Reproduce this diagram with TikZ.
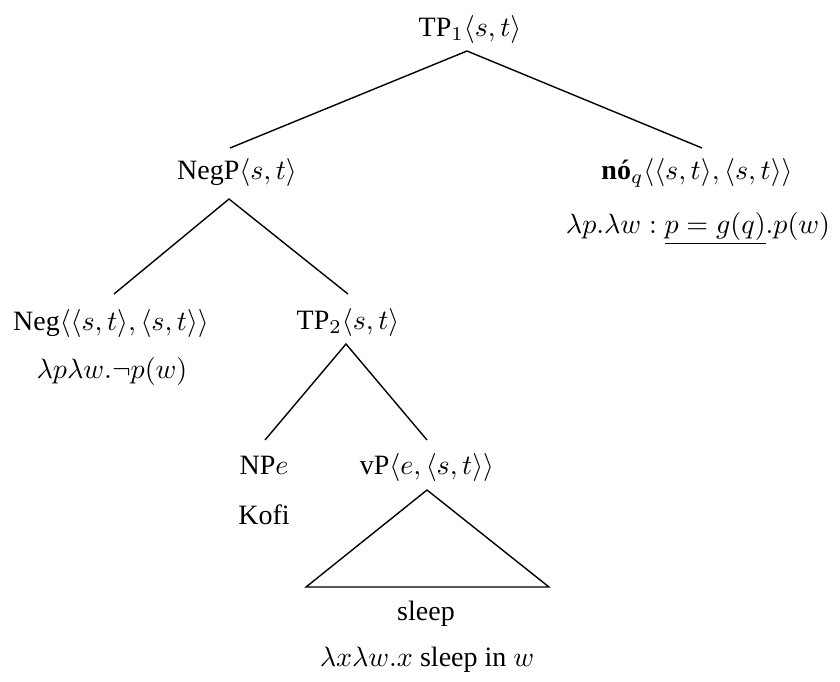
\documentclass[tikz,border=0pt]{standalone}
\usepackage[no-math]{fontspec}
\setmainfont{Liberation Serif}
\begin{document}
\begin{tikzpicture}[x=0.35714pt,y=-0.35714pt,
  lab/.style={anchor=base,inner sep=0pt},
  branch/.style={line width=0.5pt}]
\useasboundingbox (0,0) rectangle (840,681);

% labels of the tree
\node[lab] (tp1)   at (470,36)  {TP$_1\langle s,t\rangle$};
\node[lab] (negp)  at (237,179) {NegP$\langle s,t\rangle$};
\node[lab] (no)    at (697,179) {\textbf{nó}$_q\langle\langle s,t\rangle,\langle s,t\rangle\rangle$};
\node[lab] (nosem) at (698,233) {$\lambda p.\lambda w:\underline{p=g(q)}.p(w)$};
\node[lab] (neg)   at (111,330) {Neg$\langle\langle s,t\rangle,\langle s,t\rangle\rangle$};
\node[lab] (negsem) at (112,378) {$\lambda p\lambda w.\neg p(w)$};
\node[lab] (tp2)   at (348,329) {TP$_2\langle s,t\rangle$};
\node[lab] (np)    at (264,474) {NP$e$};
\node[lab] (vp)    at (427,474) {vP$\langle e,\langle s,t\rangle\rangle$};
\node[lab] (kofi)  at (264,524) {Kofi};
\node[lab] (sleep) at (426,620) {sleep};
\node[lab] (vpsem) at (427,666) {$\lambda x\lambda w.x$ sleep in $w$};

% attachment points of the branches
\coordinate (tp1-b)  at (467,51);
\coordinate (negp-t) at (230,148);
\coordinate (no-t)   at (702,148);
\coordinate (negp-b) at (229,199);
\coordinate (neg-t)  at (114,294);
\coordinate (tp2-t)  at (348,294);
\coordinate (tp2-b)  at (346,344);
\coordinate (np-t)   at (265,440);
\coordinate (vp-t)   at (427,440);
\coordinate (vp-b)   at (427,490);
\coordinate (tri-l)  at (306,587);
\coordinate (tri-r)  at (549,587);

% branches
\draw[branch] (negp-t) -- (tp1-b) -- (no-t);
\draw[branch] (neg-t) -- (negp-b) -- (tp2-t);
\draw[branch] (np-t) -- (tp2-b) -- (vp-t);
\draw[branch] (vp-b) -- (tri-l) -- (tri-r) -- cycle;
\end{tikzpicture}
\end{document}
